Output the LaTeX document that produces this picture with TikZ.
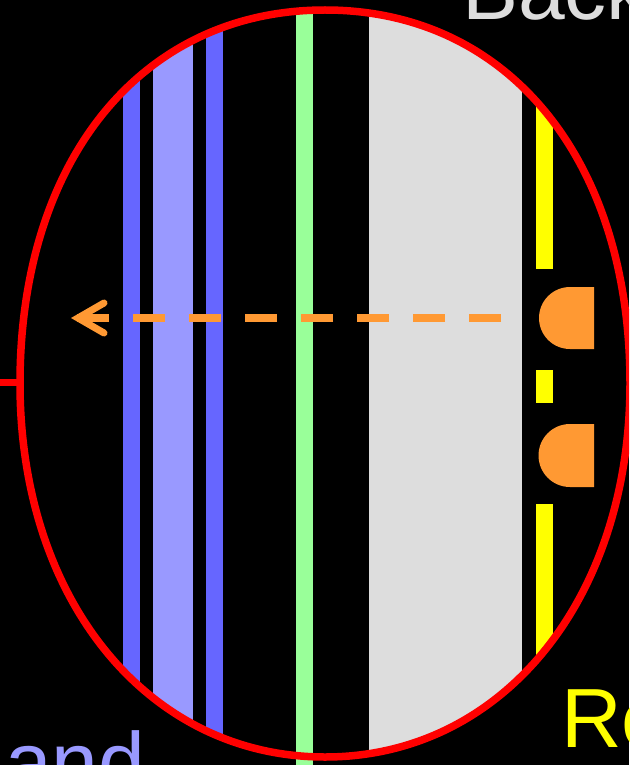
\documentclass[tikz,border=0pt]{standalone}
\usepackage{fontspec}
\setmainfont{Liberation Sans}
\definecolor{dblue}{HTML}{6666FF}
\definecolor{lblue}{HTML}{9999FF}
\definecolor{lgreen}{HTML}{99FF99}
\definecolor{lgray}{HTML}{DDDDDD}
\definecolor{orng}{HTML}{FF9933}
\definecolor{yel}{HTML}{FFFF00}
\definecolor{rd}{HTML}{FF0000}
% boxy ellipse outline, offset #1 outward
\newcommand\myringpath[1]{%
  ({20-#1},383.5) .. controls ({20-#1},{383.5-0.6*(373.5+#1)}) and ({325-0.6*(305+#1)},{10-#1}) ..
  (325,{10-#1}) .. controls ({325+0.6*(305+#1)},{10-#1}) and ({630+#1},{383.5-0.6*(373.5+#1)}) ..
  ({630+#1},383.5) .. controls ({630+#1},{383.5+0.58*(373.5+#1)}) and ({325+0.58*(305+#1)},{757+#1}) ..
  (325,{757+#1}) .. controls ({325-0.58*(305+#1)},{757+#1}) and ({20-#1},{383.5+0.58*(373.5+#1)}) ..
  cycle}
\begin{document}
\begin{tikzpicture}[x=1pt,y=-1pt,
  bigtext/.style={anchor=base west,inner sep=0pt,font=\fontsize{84}{84}\selectfont},
  dshape/.style={fill=orng},
  arrowline/.style={draw=orng,line width=7.5pt},
  ringline/.style={draw=rd,line width=7.5pt}]
\useasboundingbox (0,0) rectangle (629,765);
\clip (0,0) rectangle (629,765);
\fill[black] (0,0) rectangle (629,765);
% stripes clipped to the ring
\begin{scope}
  \clip \myringpath{3};
  \fill[dblue] (123,0) rectangle (140,765);
  \fill[lblue] (153,0) rectangle (193,765);
  \fill[dblue] (206,0) rectangle (223,765);
  \fill[lgray] (369,0) rectangle (522,765);
  \fill[yel] (536,0) rectangle (553,269);
  \fill[yel] (536,370) rectangle (553,403);
  \fill[yel] (536,504) rectangle (553,765);
\end{scope}
\fill[lgreen] (296,11) rectangle (313,765);
% detectors
\fill[dshape] (594,287) -- (570,287) arc[start angle=90,end angle=270,radius=31pt] -- (594,349) -- cycle;
\fill[dshape] (594,424) -- (570,424) arc[start angle=90,end angle=270,radius=31.5pt] -- (594,487) -- cycle;
% dashed arrow
\coordinate (astart) at (501,318);
\coordinate (aend) at (77,318);
\coordinate (tip) at (78,318);
\coordinate (armA) at (104,303);
\coordinate (armB) at (104,333);
\draw[arrowline,dash pattern=on 32pt off 24pt] (astart) -- (aend);
\draw[arrowline,line width=7pt,line cap=round,line join=miter] (armA) -- (tip) -- (armB);
% ring
\draw[ringline] \myringpath{0};
\coordinate (lstart) at (0,382.5);
\coordinate (lend) at (20,382.5);
\draw[ringline] (lstart) -- (lend);
% texts
\node[bigtext,text=lgray] (bac) at (462,20) {Back};
\node[bigtext,text=yel] (re) at (561,747) {Re};
\node[bigtext,text=lblue] (and) at (5,791) {and};
\end{tikzpicture}
\end{document}
